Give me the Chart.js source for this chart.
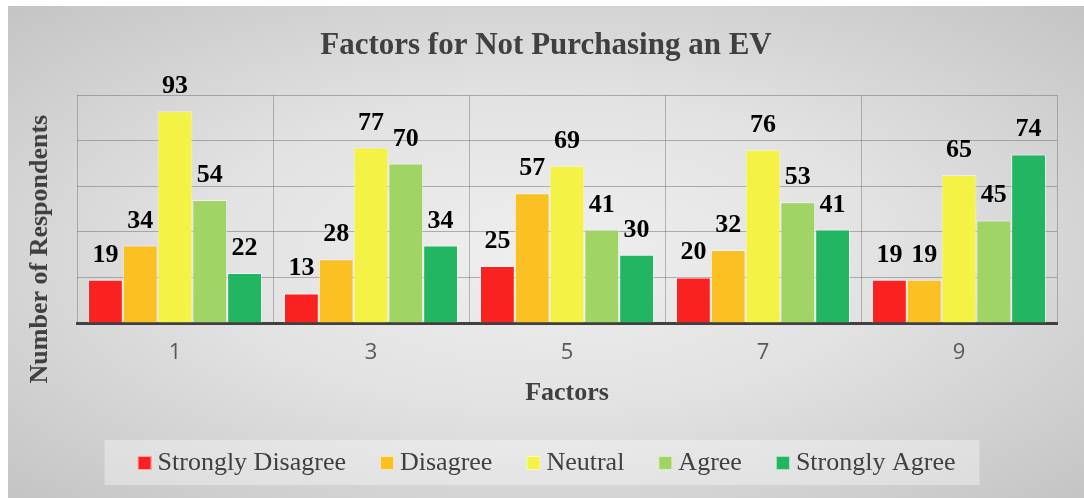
<!DOCTYPE html>
<html>
<head>
<meta charset="utf-8">
<script src="https://cdn.jsdelivr.net/npm/chart.js@4.4.1/dist/chart.umd.min.js"></script>
<style>
  html, body { margin: 0; padding: 0; background: #fff; }
  #wrap {
    position: absolute; left: 8px; top: 6px; width: 1076px; height: 492px;
    background: radial-gradient(ellipse at 50% 50%, #efefef 0%, #e2e2e2 45%, #c4c4c4 100%);
  }
</style>
</head>
<body>
<div id="wrap"><canvas id="chart"></canvas></div>
<script>
const factors = ['1', '3', '5', '7', '9'];
const stronglyDisagree = [19, 13, 25, 20, 19];
const disagree = [34, 28, 57, 32, 19];
const neutral = [93, 77, 69, 76, 65];
const agree = [54, 70, 41, 53, 45];
const stronglyAgree = [22, 34, 30, 41, 74];
const seriesNames = ['Strongly Disagree', 'Disagree', 'Neutral', 'Agree', 'Strongly Agree'];
const seriesData = [stronglyDisagree, disagree, neutral, agree, stronglyAgree];
const seriesColors = ['#fa2121', '#fbc021', '#f4f244', '#a0d464', '#22b662'];
const yTicks = [0, 20, 40, 60, 80, 100];

const serif = 'Liberation Serif';

// legend marker: square sits in the right part of the image so it hugs the text
function makeMarker(color) {
    const c = document.createElement('canvas');
    c.width = 22;
    c.height = 14;
    const g = c.getContext('2d');
    g.fillStyle = color;
    g.fillRect(8, 0, 14, 14);
    g.strokeStyle = 'rgba(255,255,255,0.6)';
    g.lineWidth = 1;
    g.strokeRect(8.5, 0.5, 13, 13);
    return c;
}
const markers = seriesColors.map(makeMarker);

// lighter panel behind the legend
const legendPanel = {
    id: 'legendPanel',
    beforeDraw(chart) {
        const boxes = chart.legend && chart.legend.legendHitBoxes;
        if (!boxes || !boxes.length) return;
        const ctx = chart.ctx;
        const first = boxes[0];
        const last = boxes[boxes.length - 1];
        const cy = first.top + first.height / 2;
        ctx.save();
        ctx.fillStyle = 'rgba(255,255,255,0.35)';
        ctx.fillRect(first.left - 32, cy - 23, last.left + last.width - first.left + 56, 45);
        ctx.restore();
    }
};

// value above each bar
const valueLabels = {
    id: 'valueLabels',
    afterDatasetsDraw(chart) {
        const ctx = chart.ctx;
        ctx.save();
        ctx.font = 'bold 26px "' + serif + '"';
        ctx.fillStyle = '#000';
        ctx.textAlign = 'center';
        ctx.textBaseline = 'alphabetic';
        chart.data.datasets.forEach((ds, i) => {
            chart.getDatasetMeta(i).data.forEach((bar, j) => {
                ctx.fillText(ds.data[j], bar.x, bar.y - 18);
            });
        });
        ctx.restore();
    }
};

// y axis title, sits a bit lower than the plot middle like the original
const yTitle = {
    id: 'yTitle',
    afterDraw(chart) {
        const ctx = chart.ctx;
        const area = chart.chartArea;
        ctx.save();
        ctx.translate(32, (area.top + area.bottom) / 2 + 40);
        ctx.rotate(-Math.PI / 2);
        ctx.font = 'bold 26px "' + serif + '"';
        ctx.fillStyle = '#404040';
        ctx.textAlign = 'center';
        ctx.textBaseline = 'middle';
        ctx.fillText('Number of Respondents', 0, 0);
        ctx.restore();
    }
};

new Chart(document.getElementById('chart'), {
    type: 'bar',
    data: {
        labels: factors,
        datasets: seriesNames.map((name, i) => ({
            label: name,
            data: seriesData[i],
            backgroundColor: seriesColors[i],
            borderColor: 'rgba(255,255,255,0.55)',
            borderWidth: 1,
            categoryPercentage: 0.888,
            barPercentage: 1
        }))
    },
    options: {
        responsive: true,
        maintainAspectRatio: false,
        animation: false,
        layout: { padding: { left: 0, right: 0, top: 0, bottom: 12 } },
        plugins: {
            title: {
                display: true,
                text: 'Factors for Not Purchasing an EV',
                color: '#404040',
                font: { family: serif, size: 31, weight: 'bold' },
                padding: { top: 21, bottom: 31 }
            },
            legend: {
                position: 'bottom',
                labels: {
                    usePointStyle: true,
                    pointStyleWidth: 8,
                    boxHeight: 14,
                    padding: 33,
                    color: '#404040',
                    font: { family: serif, size: 26 },
                    generateLabels(chart) {
                        return Chart.defaults.plugins.legend.labels.generateLabels(chart).map((item, i) => {
                            item.pointStyle = markers[i];
                            return item;
                        });
                    }
                }
            },
            tooltip: { enabled: false }
        },
        scales: {
            x: {
                grid: { color: 'rgba(110,110,110,0.45)', drawTicks: false, offset: true },
                border: { display: true, color: '#404040', width: 3 },
                ticks: { color: '#595959', font: { family: 'Open Sans', size: 22 }, padding: 17 },
                title: {
                    display: true,
                    text: 'Factors',
                    color: '#404040',
                    font: { family: serif, size: 26, weight: 'bold' },
                    padding: { top: 0, bottom: 8 }
                },
                afterFit(scale) { scale.height = 94; }
            },
            y: {
                min: yTicks[0],
                max: yTicks[yTicks.length - 1],
                ticks: { display: false, stepSize: yTicks[1] - yTicks[0] },
                grid: { color: 'rgba(110,110,110,0.5)', drawTicks: false },
                border: { display: false },
                afterFit(scale) { scale.width = 69; }
            },
            yRight: {
                position: 'right',
                ticks: { display: false },
                grid: { display: false },
                border: { display: false },
                afterFit(scale) { scale.width = 27; }
            }
        }
    },
    plugins: [legendPanel, valueLabels, yTitle]
});
</script>
</body>
</html>
